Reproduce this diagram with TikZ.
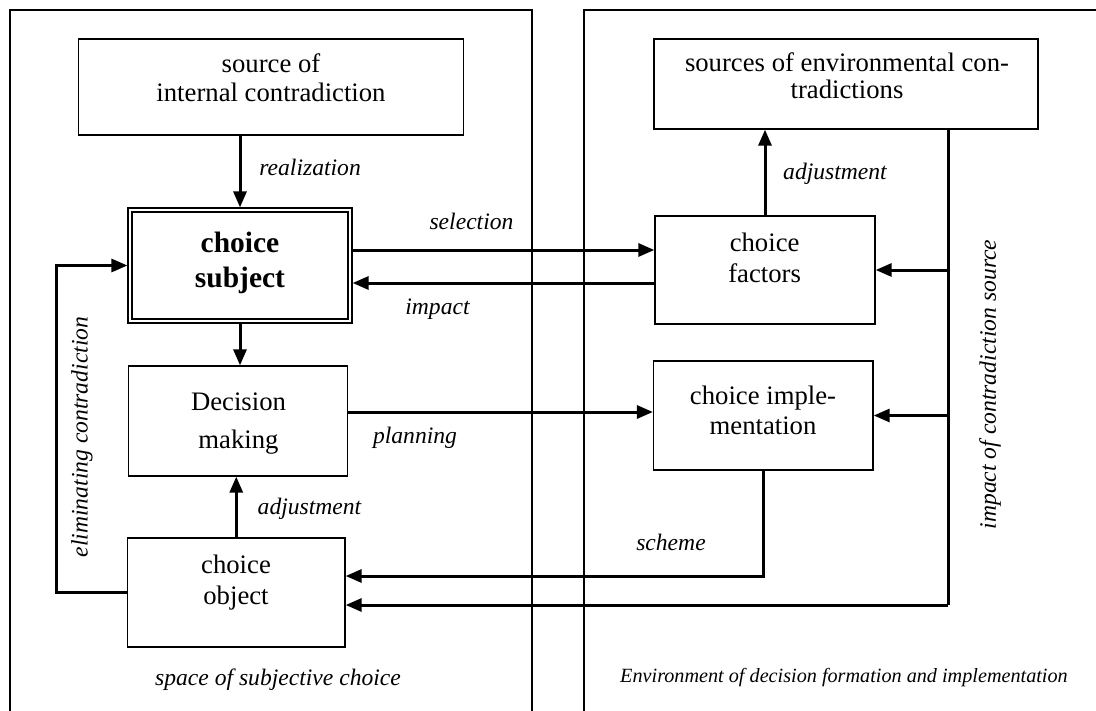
\documentclass[tikz,border=0pt]{standalone}
\usepackage{fontspec}
\setmainfont{Liberation Serif}
\usetikzlibrary{arrows.meta,calc}
\begin{document}
\begin{tikzpicture}[x=0.5pt,y=-0.5pt,
  box/.style={draw, line width=0.65pt, rectangle, inner sep=0pt},
  btxt/.style={anchor=base, inner sep=0pt, font=\fontsize{13.35}{15}\selectfont},
  bold/.style={anchor=base, inner sep=0pt, font=\fontsize{14.75}{17}\selectfont\bfseries},
  lab/.style={anchor=base, inner sep=0pt, font=\fontsize{11.8}{14}\selectfont\itshape},
  rlab/.style={anchor=center, inner sep=0pt, rotate=90, font=\fontsize{11.8}{14}\selectfont\itshape},
  envlab/.style={anchor=base, inner sep=0pt, font=\fontsize{10.1}{12}\selectfont\itshape},
  arr/.style={line width=1.5pt, -{Triangle[length=8pt,width=6.5pt]}},
  conn/.style={line width=1.5pt},
  panel/.style={line width=1pt}]
\useasboundingbox (0,0) rectangle (1096,711);
% panels
\draw[panel] (10,716) -- (10,10) -- (532,10) -- (532,716);
\draw[panel] (584,716) -- (584,10) -- (1100,10);
% boxes
\node[box, minimum width=192.5pt, minimum height=48pt] (src) at (271,87) {};
\node[box, line width=0.6pt, minimum width=112pt, minimum height=57.5pt] (subj) at (240,265.5) {};
\draw[line width=1pt] ([shift={(2.5pt,-2.5pt)}]subj.north west) rectangle ([shift={(-2.5pt,2.5pt)}]subj.south east);
\node[box, minimum width=109.25pt, minimum height=55pt] (dec) at (238,421) {};
\node[box, minimum width=108.75pt, minimum height=54.5pt] (obj) at (236.25,592.5) {};
\node[box, minimum width=192pt, minimum height=45pt] (env) at (846,84) {};
\node[box, minimum width=110pt, minimum height=54pt] (fac) at (765,270) {};
\node[box, minimum width=109.75pt, minimum height=54.5pt] (impl) at (763.3,415.5) {};
% box texts
\node[btxt] (srcA) at (271,73) {source of};
\node[btxt] (srcB) at (271,102) {internal contradiction};
\node[bold] (subjA) at (240,252) {choice};
\node[bold] (subjB) at (240,287) {subject};
\node[btxt] (decA) at (238.5,410) {Decision};
\node[btxt] (decB) at (238.5,448) {making};
\node[btxt] (objA) at (236,573) {choice};
\node[btxt] (objB) at (236,604) {object};
\node[btxt] (envA) at (847,72) {sources of environmental con-};
\node[btxt] (envB) at (847,99) {tradictions};
\node[btxt] (facA) at (764.6,251) {choice};
\node[btxt] (facB) at (764.6,282) {factors};
\node[btxt] (implA) at (763,404) {choice imple-};
\node[btxt] (implB) at (763,434) {mentation};
% helper coordinates
\coordinate (loopx) at (56,0);
\coordinate (trunk) at (948,605);
\coordinate (schy) at (0,576);
% connectors
\draw[arr] (src.south -| subj.north) -- (subj.north);
\draw[arr] ([yshift=7.75pt]subj.east) -- ([yshift=7.75pt]subj.east -| fac.west);
\draw[arr] ([yshift=-8.75pt]subj.east -| fac.west) -- ([yshift=-8.75pt]subj.east);
\draw[arr] (subj.south) -- (subj.south |- dec.north);
\draw[arr] ([yshift=4.5pt]dec.east) -- ([yshift=4.5pt]dec.east -| impl.west);
\draw[arr] (obj.north) -- (obj.north |- dec.south);
\draw[arr] (obj.west) -- (obj.west -| loopx) -- (subj.west -| loopx) -- (subj.west);
\draw[arr] (fac.north) -- (fac.north |- env.south);
\draw[conn] (env.south -| trunk) -- (trunk);
\draw[arr] (trunk) -- (trunk -| obj.east);
\draw[arr] (fac.east -| trunk) -- (fac.east);
\draw[arr] (impl.east -| trunk) -- (impl.east);
\draw[arr] (impl.south) -- (impl.south |- schy) -- (schy -| obj.east);
% labels
\node[lab, anchor=base west] (lreal) at (259,176) {realization};
\node[lab] (lsel) at (471.5,229) {selection};
\node[lab] (limp) at (437.5,314) {impact};
\node[lab] (ladjr) at (835,180) {adjustment};
\node[lab] (lplan) at (415,443) {planning};
\node[lab] (ladjl) at (309.5,514) {adjustment};
\node[lab] (lsch) at (671,550) {scheme};
\node[lab] (lspace) at (278,685) {space of subjective choice};
\node[envlab] (lenv) at (844,682) {Environment of decision formation and implementation};
\node[rlab] (lelim) at (82,437) {eliminating contradiction};
\node[rlab] (limpsrc) at (990,384.5) {impact of contradiction source};
\end{tikzpicture}
\end{document}
